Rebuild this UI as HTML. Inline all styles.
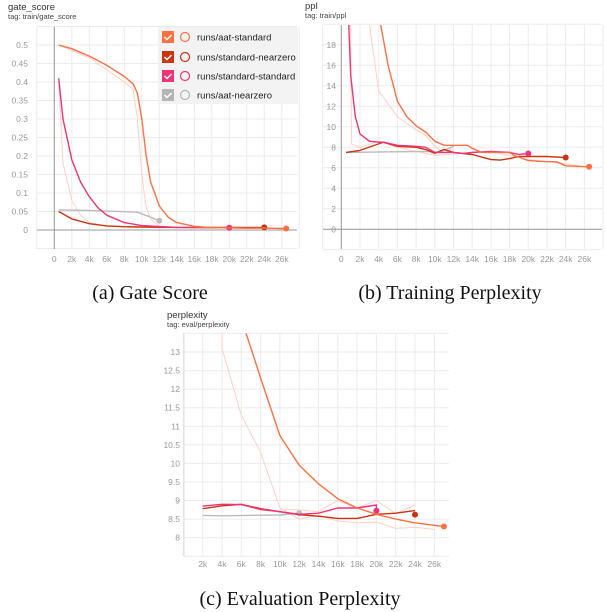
<!DOCTYPE html>
<html><head><meta charset="utf-8"><style>
body{margin:0;background:#fff;width:606px;height:612px;overflow:hidden;font-family:"Liberation Sans",sans-serif}
svg{position:absolute;left:0;top:0}
.cap{font-family:"Liberation Serif",serif;font-size:20px;fill:#111}
.tk{font-size:8.5px;fill:#999}
.ttl{font-size:9.5px;fill:#333}
.tag{font-size:7.5px;fill:#444}
</style></head><body>
<svg id="s" width="606" height="612"></svg>
<script>
// ---- data ----
const gateOrangeX=[0.5,2,4,6,8,9,9.5,10,10.5,11,12,13,14,16,18,20,22,24,26.5];
const gateOrangeY=[0.5,0.49,0.47,0.445,0.415,0.395,0.37,0.3,0.2,0.13,0.065,0.035,0.02,0.01,0.006,0.006,0.005,0.005,0.004];
const gateRedX=[0.5,2,4,6,8,10,14,20,24];
const gateRedY=[0.05,0.03,0.017,0.011,0.009,0.008,0.007,0.007,0.007];
const gatePinkX=[0.5,1,2,3,4,5,6,8,10,14,20];
const gatePinkY=[0.41,0.3,0.19,0.13,0.09,0.06,0.04,0.02,0.012,0.007,0.006];
const gateGreyX=[0.5,4,9.5,11,12];
const gateGreyY=[0.054,0.053,0.048,0.035,0.025];
const gateRawAX=[0.5,4,8,9,9.5,10,10.5,11,12,14];
const gateRawAY=[0.5,0.465,0.4,0.38,0.3,0.15,0.06,0.03,0.01,0.006];
const gateRawBX=[0.5,1,2,3,4,6,8];
const gateRawBY=[0.4,0.18,0.08,0.04,0.02,0.01,0.008];
const gateTicksY=[0,0.05,0.1,0.15,0.2,0.25,0.3,0.35,0.4,0.45,0.5];
const gateTickLabels=["0","0.05","0.1","0.15","0.2","0.25","0.3","0.35","0.4","0.45","0.5"];

const pplOrangeX=[4.2,5,6,7,8,9,10,11,12,13.5,14,15,16,18,18.5,20,22,23,24,26.5];
const pplOrangeY=[20,16,12.5,11,10.1,9.5,8.6,8.2,8.2,8.2,7.9,7.5,7.5,7.5,7.2,6.7,6.6,6.6,6.2,6.1];
const pplRedX=[0.5,2,4.5,6,8,9,10,11,12,14,16,17,18,19,22,24];
const pplRedY=[7.5,7.7,8.5,8.1,8.0,7.8,7.4,7.8,7.5,7.3,6.8,6.75,6.9,7.1,7.1,7.0];
const pplPinkX=[0.8,1,1.5,2,3,4,4.5,6,8,9,10,12,13,14,16,18,19,20];
const pplPinkY=[20,15,11,9.3,8.6,8.5,8.5,8.2,8.1,8.0,7.5,7.5,7.4,7.5,7.6,7.5,7.3,7.4];
const pplGreyX=[0.5,9.5,10.5,12];
const pplGreyY=[7.5,7.6,7.5,8.1];
const pplRawAX=[3,4,6,8,9,10,11,12];
const pplRawAY=[20,13.5,11,9.7,9.2,8.1,7.4,8.0];
const pplRawBX=[1,1.1,2,4,6,10,16,20,24,26];
const pplRawBY=[20,8.3,8.0,8.6,8.0,7.2,7.6,6.8,6.4,6.1];
const pplTicksY=[0,2,4,6,8,10,12,14,16,18];

const evOrangeX=[6.5,8,10,12,14,16,18,20,22,24,27];
const evOrangeY=[13.5,12.3,10.75,9.95,9.45,9.05,8.8,8.63,8.5,8.4,8.3];
const evRedX=[2,4,6,8,10,12,14,16,18,20,22,24];
const evRedY=[8.78,8.86,8.9,8.78,8.7,8.62,8.58,8.52,8.52,8.63,8.66,8.73];
const evPinkX=[2,4,6,8,10,12,14,16,18,20,20];
const evPinkY=[8.85,8.9,8.89,8.76,8.7,8.63,8.66,8.8,8.8,8.88,8.73];
const evGreyX=[2,4,10,12];
const evGreyY=[8.6,8.59,8.61,8.66];
const evRawAX=[4,4,6,8,10,12,14,16,18,20,22,24,26];
const evRawAY=[13.5,13.1,11.3,10.3,8.8,8.5,8.6,8.45,8.4,8.42,8.25,8.28,8.22];
const evRawBX=[10,12,14,16,18,20,22,24];
const evRawBY=[8.75,8.75,8.7,9.0,8.8,9.0,8.65,8.88];
const evTicksY=[8,8.5,9,9.5,10,10.5,11,11.5,12,12.5,13];
const evTickLabels=["8","8.5","9","9.5","10","10.5","11","11.5","12","12.5","13"];
const xTicks=[0,2,4,6,8,10,12,14,16,18,20,22,24,26];

// ---- drawing ----
const NS="http://www.w3.org/2000/svg";
const S=document.getElementById('s');
function mk(tag,attrs,parent,txt){const e=document.createElementNS(NS,tag);for(const k in attrs)e.setAttribute(k,attrs[k]);if(txt!==undefined)e.textContent=txt;(parent||S).appendChild(e);return e;}
const C={orange:"#ff7043",red:"#cc3311",pink:"#ee3377",grey:"#bbbbbb",raw:"#ffcfc8"};

function chart(cfg){
  const g=mk('g',{});
  
  
  const X=v=>cfg.x0+v/2*cfg.dx, Y=v=>cfg.y0-(v-cfg.yb)/cfg.ys*cfg.dy;
  for(let v=cfg.gxmin;v<=cfg.gxmax;v+=2){const l=mk('line',{x1:X(v),x2:X(v),y1:cfg.top,y2:cfg.bot,stroke:"#ebebeb","stroke-width":1},g);}
  for(let v=cfg.gymin;v<=cfg.gymax+1e-9;v+=cfg.ys){const l=mk('line',{x1:cfg.left,x2:cfg.right,y1:Y(v),y2:Y(v),stroke:"#ebebeb","stroke-width":1},g);}
  if(cfg.axis0){mk('line',{x1:X(0),x2:X(0),y1:cfg.top,y2:cfg.bot,stroke:"#999","stroke-width":1},g);mk('line',{x1:cfg.left,x2:cfg.right,y1:Y(0),y2:Y(0),stroke:"#999","stroke-width":1},g);}
  else{mk('line',{x1:cfg.left,x2:cfg.left,y1:cfg.top,y2:cfg.bot,stroke:"#ddd"},g);}
  cfg.yt.forEach((v,i)=>{const t=mk('text',{x:cfg.ylx,y:Y(v)+3,"text-anchor":"end",class:"tk"},g,cfg.yl?cfg.yl[i]:String(v));});
  cfg.xt.forEach(v=>{const t=mk('text',{x:X(v),y:cfg.xly,"text-anchor":"middle",class:"tk"},g,v===0?"0":v+"k");});
  const tt=mk('text',{x:cfg.tx,y:cfg.ty,class:"ttl"},g,cfg.title);
  const tg=mk('text',{x:cfg.tx,y:cfg.ty+9,class:"tag"},g,cfg.tag);
  const cid='c'+cfg.name;const cp=mk('clipPath',{id:cid},g);mk('rect',{x:cfg.left,y:cfg.top,width:cfg.right-cfg.left,height:cfg.bot-cfg.top},cp);
  const sg=mk('g',{'clip-path':`url(#${cid})`},g);
  cfg.series.forEach(s=>{
    const d=s.x.map((v,i)=>(i?'L':'M')+X(v).toFixed(1)+','+Y(s.y[i]).toFixed(1)).join('');
    const p=mk('path',{d:d,fill:'none',stroke:s.c,'stroke-width':s.w||1.4,'stroke-linejoin':'round'},sg);
    
    
    if(s.dot){const c=mk('circle',{cx:X(s.x[s.x.length-1]),cy:Y(s.y[s.y.length-1]),r:3,fill:s.c},sg);}
  });
  return g;
}

chart({name:'gate-score-chart',x0:54.3,dx:17.5,y0:230,yb:0,ys:0.05,dy:18.5,top:27,bot:249,left:37,right:297,gxmin:-2,gxmax:28,gymin:-0.05,gymax:0.55,axis0:true,
 yt:gateTicksY,yl:gateTickLabels,ylx:28,xt:xTicks,xly:262,tx:8,ty:10,title:'gate_score',tag:'tag: train/gate_score',
 series:[{x:gateRawAX,y:gateRawAY,c:C.raw,w:1,n:'raw-line'},{x:gateRawBX,y:gateRawBY,c:C.raw,w:1,n:'raw-line'},
 {x:gateGreyX,y:gateGreyY,c:C.grey,n:'aat-nearzero-line',dot:1},{x:gateRedX,y:gateRedY,c:C.red,n:'standard-nearzero-line',dot:1},
 {x:gatePinkX,y:gatePinkY,c:C.pink,n:'standard-standard-line',dot:1},{x:gateOrangeX,y:gateOrangeY,c:C.orange,n:'aat-standard-line',dot:1}]});

chart({name:'train-ppl-chart',x0:341.3,dx:18.7,y0:229.3,yb:0,ys:2,dy:20.5,top:25,bot:249,left:323,right:602,gxmin:-2,gxmax:28,gymin:-2,gymax:20,axis0:true,
 yt:pplTicksY,ylx:336,xt:xTicks,xly:262,tx:305,ty:9,title:'ppl',tag:'tag: train/ppl',
 series:[{x:pplRawAX,y:pplRawAY,c:C.raw,w:1,n:'raw-line'},{x:pplRawBX,y:pplRawBY,c:C.raw,w:1,n:'raw-line'},
 {x:pplGreyX,y:pplGreyY,c:C.grey,n:'aat-nearzero-line'},{x:pplRedX,y:pplRedY,c:C.red,n:'standard-nearzero-line',dot:1},
 {x:pplPinkX,y:pplPinkY,c:C.pink,n:'standard-standard-line',dot:1},{x:pplOrangeX,y:pplOrangeY,c:C.orange,n:'aat-standard-line',dot:1}]});

chart({name:'eval-perplexity-chart',x0:183.4,dx:19.3,y0:537.7,yb:8,ys:0.5,dy:18.57,top:333,bot:556,left:184,right:449,gxmin:0,gxmax:26,gymin:7.5,gymax:13.5,axis0:false,
 yt:evTicksY,yl:evTickLabels,ylx:180,xt:xTicks.slice(1),xly:567,tx:167,ty:318,title:'perplexity',tag:'tag: eval/perplexity',
 series:[{x:evRawAX,y:evRawAY,c:C.raw,w:1,n:'raw-line'},{x:evRawBX,y:evRawBY,c:C.raw,w:1,n:'raw-line'},
 {x:evGreyX,y:evGreyY,c:C.grey,n:'aat-nearzero-line',dot:1},{x:evRedX,y:evRedY,c:C.red,n:'standard-nearzero-line'},
 {x:evPinkX,y:evPinkY,c:C.pink,n:'standard-standard-line',dot:1},{x:evOrangeX,y:evOrangeY,c:C.orange,n:'aat-standard-line',dot:1}]});
const rd=mk('circle',{cx:183.4+24/2*19.3,cy:537.7-(8.62-8)/0.5*18.57,r:3,fill:C.red});



const lg=mk('g',{});


mk('rect',{x:158,y:27,width:140,height:77,fill:'#f2f2f2','fill-opacity':0.92},lg);
[['runs/aat-standard',C.orange,37],['runs/standard-nearzero',C.red,57],['runs/standard-standard',C.pink,76],['runs/aat-nearzero','#b5b5b5',95]].forEach(r=>{
  const e=mk('g',{},lg);
  
  
  mk('rect',{x:162,y:r[2]-6,width:12,height:12,fill:r[1]},e);
  mk('path',{d:`M164.5,${r[2]}l2.5,2.5l4.5,-4.5`,stroke:'#fff','stroke-width':1.5,fill:'none'},e);
  mk('circle',{cx:185,cy:r[2],r:4.5,fill:'none',stroke:r[1],'stroke-width':1.2},e);
  mk('text',{x:197,y:r[2]+3.5,style:'font-size:9.5px;fill:#222'},e,r[0]);
});

[['(a) Gate Score',150,299],['(b) Training Perplexity',450,299],['(c) Evaluation Perplexity',300,605]].forEach(c=>{
  const t=mk('text',{x:c[1],y:c[2],'text-anchor':'middle',class:'cap'},S,c[0]);
  
  
});
</script>
</body></html>
